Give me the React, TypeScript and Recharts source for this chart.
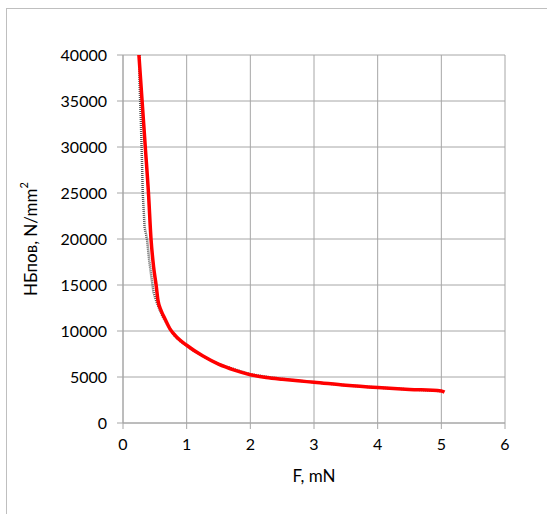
import { LineChart, Line, XAxis, YAxis, CartesianGrid, Label } from 'recharts';

// measured hardness curve (grey, noisy) and the smoothed fit (red)
const measuredF = [0.26, 0.26, 0.27, 0.28, 0.29, 0.3, 0.31, 0.33, 0.34, 0.36, 0.38, 0.41, 0.44, 0.46, 0.48, 0.52, 0.57, 0.62, 0.68, 0.75, 0.82, 0.9, 1.0, 1.1, 1.2, 1.3, 1.5, 1.7, 2.0, 2.3, 2.6, 3.0, 3.5, 4.0, 4.5, 5.0];
const measuredH = [40000, 37000, 34800, 33000, 30500, 28000, 25000, 22500, 21200, 20600, 19800, 17800, 16200, 15200, 14200, 13300, 12400, 11600, 10900, 10100, 9400, 8900, 8400, 7900, 7500, 7100, 6400, 5950, 5300, 4980, 4720, 4430, 4100, 3850, 3650, 3470];

const fitF = [0.25, 0.3, 0.35, 0.4, 0.44, 0.48, 0.52, 0.55, 0.6, 0.66, 0.74, 0.85, 1.0, 1.25, 1.5, 1.75, 2.0, 2.25, 2.5, 2.75, 3.0, 3.5, 4.0, 4.5, 5.0, 5.05];
const fitH = [40000, 35000, 30000, 25000, 20000, 17000, 15000, 13300, 12200, 11300, 10200, 9300, 8450, 7300, 6400, 5750, 5250, 4950, 4750, 4580, 4430, 4100, 3850, 3650, 3480, 3350];

const xTicks = [0, 1, 2, 3, 4, 5, 6];
const yTicks = [0, 5000, 10000, 15000, 20000, 25000, 30000, 35000, 40000];

const measured = measuredF.map((f, i) => ({ f, h: measuredH[i] }));
const fit = fitF.map((f, i) => ({ f, h: fitH[i] }));

const FONT = 'Lato, "Open Sans", sans-serif';
const GRID = '#a6a6a6';

function YTitle(props: any) {
  const vb = props.viewBox;
  const x = 30;
  const y = vb.y + vb.height / 2;
  return (
    <text
      x={x}
      y={y}
      transform={`rotate(-90 ${x} ${y})`}
      textAnchor="middle"
      dominantBaseline="central"
      fontFamily={FONT}
      fontSize={17}
      fill="#000"
    >
      НБпов, N/mm
      <tspan dy={-7} fontSize={11}>2</tspan>
    </text>
  );
}

function XTitle(props: any) {
  const vb = props.viewBox;
  return (
    <text
      x={vb.x + vb.width / 2}
      y={482}
      textAnchor="middle"
      fontFamily={FONT}
      fontSize={17}
      fill="#000"
    >
      F, mN
    </text>
  );
}

export default function App() {
  return (
    <div style={{ position: 'absolute', left: 0, top: 0, width: 547, height: 514, background: '#fff' }}>
      <div
        style={{
          position: 'absolute',
          left: 6,
          top: 8,
          width: 560,
          height: 520,
          borderLeft: '1px solid #bfbfbf',
          borderTop: '1px solid #bfbfbf',
        }}
      />
      <div style={{ position: 'absolute', left: 0, top: 0 }}>
        <LineChart width={547} height={514} margin={{ top: 55, right: 42, bottom: 0, left: 63 }}>
          <CartesianGrid stroke={GRID} strokeWidth={1} />
          <XAxis
            type="number"
            dataKey="f"
            domain={[0, 6]}
            ticks={xTicks}
            allowDataOverflow
            height={91}
            stroke={GRID}
            tickSize={6}
            tickMargin={10}
            tick={{ fill: '#000', fontSize: 16, fontFamily: FONT }}
          >
            <Label content={XTitle} />
          </XAxis>
          <YAxis
            type="number"
            dataKey="h"
            domain={[0, 40000]}
            ticks={yTicks}
            allowDataOverflow
            width={60}
            stroke={GRID}
            tickSize={6}
            tickMargin={10}
            tick={{ fill: '#000', fontSize: 16, fontFamily: FONT }}
          >
            <Label content={YTitle} />
          </YAxis>
          <Line
            data={measured}
            dataKey="h"
            type="linear"
            stroke="#555555"
            strokeWidth={2.5}
            strokeDasharray="1 1"
            dot={false}
            isAnimationActive={false}
          />
          <Line
            data={fit}
            dataKey="h"
            type="monotone"
            stroke="#ff0000"
            strokeWidth={3.5}
            dot={false}
            isAnimationActive={false}
          />
        </LineChart>
      </div>
    </div>
  );
}
